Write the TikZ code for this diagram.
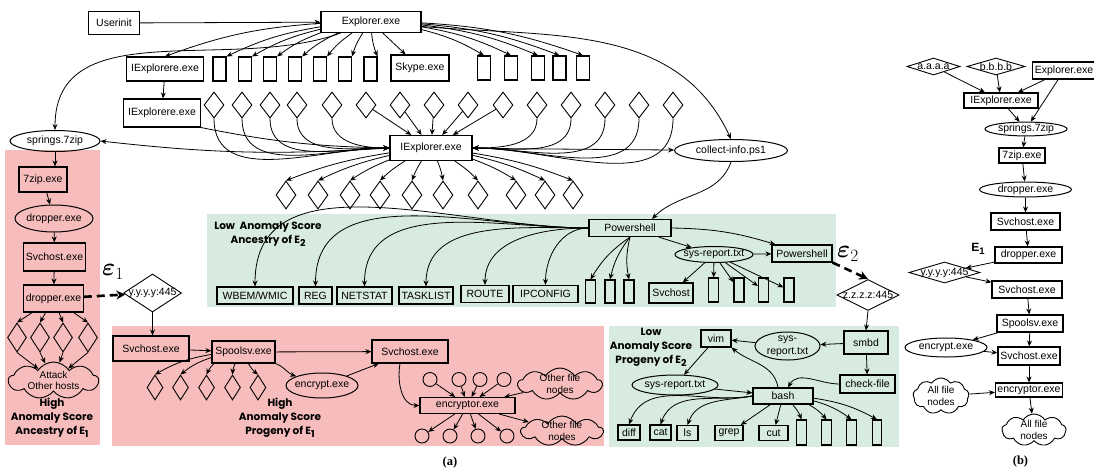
\documentclass[tikz,border=0pt]{standalone}
\usepackage{amsmath,amssymb}
\usepackage{mathtools}
\usepackage{xcolor}
\usepackage{fontspec}
\usepackage{tikz}
\usetikzlibrary{arrows.meta,positioning,shapes.geometric,shapes.symbols}
\newfontfamily\procfont{Liberation Sans}
\newfontfamily\tagfont{Poppins}
\newfontfamily\capfont{Liberation Serif}
\definecolor{hired}{RGB}{247,188,188}
\definecolor{logreen}{RGB}{215,235,224}
\newcommand{\idx}[1]{\raisebox{-0.5ex}{\fontsize{9.5}{10}\selectfont #1}}

\begin{document}
\begin{tikzpicture}[
  x=1pt, y=1pt,
  font=\procfont\fontsize{10.5}{12.6}\selectfont,
  box/.style={draw, line width=1.1pt, inner sep=2pt, minimum height=17},
  blank/.style={draw, line width=1.1pt, inner sep=0pt, minimum width=13,
                minimum height=24},
  file/.style={draw, ellipse, line width=1pt, inner sep=0pt},
  sock/.style={draw, diamond, line width=0.9pt, inner sep=0pt,
               minimum width=20, minimum height=26},
  cld/.style={draw, cloud, cloud puffs=9, cloud puff arc=115,
              line width=0.9pt, inner sep=0pt},
  cldtxt/.style={align=center, inner sep=0pt,
                 font=\procfont\fontsize{10}{11.5}\selectfont},
  hole/.style={draw, circle, line width=0.9pt, inner sep=0pt, minimum size=14},
  arr/.style={-{Stealth[length=6pt, width=5pt]}, line width=0.8pt},
  dasharr/.style={-{Stealth[length=9pt, width=9pt]}, line width=2.6pt,
                  dash pattern=on 8pt off 5pt},
  lab/.style={font=\tagfont\bfseries\fontsize{10.5}{14}\selectfont, align=center},
  eps/.style={font=\fontsize{23}{25}\selectfont},
  figcap/.style={font=\capfont\bfseries\fontsize{12.5}{15}\selectfont}
]
\useasboundingbox (0,0) rectangle (1094,-469);
% shaded regions
\fill[hired] (5,-150) rectangle (100,-445);
\fill[hired] (112,-326) rectangle (604,-446);
\fill[logreen] (207,-214) rectangle (836,-307);
\fill[logreen] (609,-326) rectangle (899,-447);
% top of the tree
\node[box, minimum width=51, minimum height=23] (uinit) at (114,-23) {Userinit};
\node[box, minimum width=100, minimum height=21] (expl) at (371,-22) {Explorer.exe};
\node[box, minimum width=77, minimum height=24] (iexa) at (165,-69) {IExplorere.exe};
\node[box, minimum width=58, minimum height=26] (skype) at (420,-68) {Skype.exe};
\node[box, minimum width=77, minimum height=28] (iexb) at (162,-113) {IExplorere.exe};
\foreach \x [count=\i] in {219.5,245,270,295,320,345,370.5}
  \node[blank] (lt\i) at (\x,-69) {};
\foreach \x [count=\i] in {484,511,538,559.5,583}
  \node[blank] (rt\i) at (\x,-68) {};
\foreach \x [count=\i] in {214,242,270,297,332,366,400,434,468,503,537,571,605,639,673}
  \node[sock] (md\i) at (\x,-105) {};
\node[box, minimum width=82, minimum height=25] (iex) at (431,-148) {IExplorer.exe};
\node[file, minimum width=90, minimum height=21] (spr) at (55,-141) {\clap{springs.7zip}};
\node[file, minimum width=113, minimum height=22] (coll) at (731,-150.5) {\clap{collect-info.ps1}};
\foreach \x [count=\i] in {286,318,350,380,412,443,478,516,545,573}
  \node[sock, minimum height=28] (bd\i) at (\x,-195) {};
% low score ancestry of E2
\node[lab] (lowa) at (268,-234) {Low~ Anomaly Score\\Ancestry of E\idx{2}};
\node[box, minimum width=82, inner sep=1pt] (psh) at (630,-228) {Powershell};
\node[box, minimum width=76] (wbem) at (255,-295.5) {WBEM/WMIC};
\node[box, minimum width=33] (reg) at (315.5,-295.5) {REG};
\node[box, minimum width=55] (nstat) at (364.5,-295.5) {NETSTAT};
\node[box, minimum width=54] (tlist) at (426,-295.5) {TASKLIST};
\node[box, minimum width=48] (route) at (485,-294) {ROUTE};
\node[box, minimum width=65] (ipcfg) at (545.5,-294) {IPCONFIG};
\foreach \x [count=\i] in {590.5,610,629}
  \node[blank, minimum width=10, minimum height=23] (gr\i) at (\x,-291.5) {};
\node[file, minimum width=78, minimum height=16] (srep) at (714,-254.5) {\clap{sys-report.txt}};
\node[box, minimum width=60] (psh2) at (802,-253.5) {Powershell};
\node[box, minimum width=44, minimum height=20] (svc) at (671,-293) {Svchost};
\foreach \x [count=\i] in {713.5,739,763.5,789}
  \node[blank, minimum width=10] (sr\i) at (\x,-290) {};
\node[sock, minimum width=62, minimum height=31] (zaddr) at (868,-295) {\clap{z.z.z.z:445}};
\node[eps] (epsb) at (848,-254) {$\boldsymbol{\varepsilon}_2$};
% low score progeny of E2
\node[lab] (lowb) at (651,-347) {Low\\Anomaly Score\\Progeny of E\idx{2}};
\node[box, minimum width=30] (vim) at (716,-338.5) {vim};
\node[file, minimum width=65, minimum height=28,
      label={[align=center]center:sys-\\report.txt}] (srep2) at (787.5,-346) {};
\node[box, minimum width=44, minimum height=23] (smbd) at (866,-342.5) {smbd};
\node[box, minimum width=55, minimum height=18] (chk) at (867.5,-384) {check-file};
\node[file, minimum width=86, minimum height=20] (srep3) at (675,-385) {\clap{sys-report.txt}};
\node[box, minimum width=60, minimum height=16] (bash) at (783,-396) {bash};
\node[box, minimum width=22, minimum height=15] (diff) at (629,-432.5) {diff};
\node[box, minimum width=21, minimum height=15] (cat) at (660.5,-432.5) {cat};
\node[box, minimum width=21, minimum height=15] (ls) at (687.5,-433) {ls};
\node[box, minimum width=28, minimum height=15] (grep) at (729,-433) {grep};
\node[box, minimum width=29, minimum height=15] (cut) at (773.5,-433) {cut};
\foreach \x [count=\i] in {801.5,826.5,851.5,877}
  \node[blank, minimum width=9.5, minimum height=25] (br\i) at (\x,-432.5) {};
% high score ancestry of E1
\node[box, minimum width=48, minimum height=25] (zip) at (43,-179.5) {7zip.exe};
\node[file, minimum width=78, minimum height=27] (dropa) at (54,-218.5) {\clap{dropper.exe}};
\node[box, minimum width=61, minimum height=28] (svca) at (54.5,-257) {Svchost.exe};
\node[box, minimum width=59, minimum height=27] (dropb) at (53.5,-298.5) {dropper.exe};
\foreach \x [count=\i] in {17,40,63,88}
  \node[sock, minimum width=19, minimum height=29] (ad\i) at (\x,-337.5) {};
\node[cld, minimum width=90, minimum height=37,
      label={[cldtxt]center:Attack\\Other hosts}] (atk) at (53.5,-380.5) {};
\node[lab] (hia) at (52,-418) {High\\Anomaly Score\\Ancestry of E\idx{1}};
\node[sock, minimum width=58, minimum height=38] (yya) at (152.5,-293) {\clap{y.y.y.y:445}};
\node[eps] (epsa) at (113,-272) {$\boldsymbol{\varepsilon}_1$};
% high score progeny of E1
\node[box, minimum width=76, minimum height=25] (svcb) at (151,-348.5) {Svchost.exe};
\node[box, minimum width=63, minimum height=22] (spool) at (243.5,-352) {Spoolsv.exe};
\node[box, minimum width=76, minimum height=23] (svcc) at (410,-351.5) {Svchost.exe};
\node[file, minimum width=72, minimum height=25] (encr) at (322,-385.5) {\clap{encrypt.exe}};
\foreach \x [count=\i] in {155,180.5,206.5,232.5,258}
  \node[sock, minimum width=16, minimum height=25] (pd\i) at (\x,-387.5) {};
\node[lab] (hib) at (280,-418) {High\\Anomaly Score\\Progeny of E\idx{1}};
\node[box, minimum width=95, minimum height=16] (ency) at (467.5,-405.5) {encryptor.exe};
\foreach \x [count=\i] in {430,459,480,504}
  \node[hole] (tc\i) at (\x,-379.5) {};
\foreach \x [count=\i] in {422,450,478,507}
  \node[hole] (bc\i) at (\x,-436) {};
\node[cld, minimum width=84, minimum height=32,
      label={[cldtxt]center:Other file\\nodes}] (ofa) at (560,-384) {};
\node[cld, minimum width=82, minimum height=30,
      label={[cldtxt]center:Other file\\nodes}] (ofb) at (562,-431) {};
% panel b
\node[sock, minimum width=53, minimum height=17] (aaa) at (933.5,-66.5) {\clap{a.a.a.a}};
\node[sock, minimum width=58, minimum height=17] (bbb) at (996,-66.5) {\clap{b.b.b.b}};
\node[box, minimum width=62] (explb) at (1064,-70.5) {Explorer.exe};
\node[box, minimum width=74, minimum height=15] (iexc) at (1001,-100.5) {IExplorer.exe};
\node[file, minimum width=82, minimum height=12] (sprb) at (1026,-129) {\clap{springs.7zip}};
\node[box, minimum width=46, minimum height=15] (zipb) at (1022,-155.5) {7zip.exe};
\node[file, minimum width=92, minimum height=15] (dropc) at (1025.5,-189.5) {\clap{dropper.exe}};
\node[box, minimum width=69] (svcd) at (1025.5,-221.5) {Svchost.exe};
\node[lab, font=\procfont\bfseries\fontsize{12}{14}\selectfont] (e1b) at (978,-249) {E\idx{1}};
\node[box, minimum width=67, minimum height=16] (dropd) at (1028.5,-255) {dropper.exe};
\node[sock, minimum width=71, minimum height=21] (yyb) at (944.5,-272.5) {\clap{y.y.y.y:445}};
\node[box, minimum width=70] (svce) at (1027,-289.5) {Svchost.exe};
\node[box, minimum width=66] (spoolb) at (1030,-323.5) {Spoolsv.exe};
\node[file, minimum width=82, minimum height=19] (encb) at (946,-347.5) {\clap{encrypt.exe}};
\node[box, minimum width=62, minimum height=18] (svcf) at (1029,-356) {Svchost.exe};
\node[cld, minimum width=56, minimum height=36,
      label={[cldtxt]center:All file\\nodes}] (alla) at (941,-396) {};
\node[box, minimum width=66, minimum height=14] (encyb) at (1029,-390) {encryptor.exe};
\node[cld, minimum width=64, minimum height=32,
      label={[cldtxt]center:All file\\nodes}] (allb) at (1034,-430) {};
% captions
\node[figcap] (capa) at (450,-462) {(a)};
\node[figcap] (capb) at (1020.5,-461) {(b)};
% arrows, top
\draw[arr] (uinit) -- (expl);
\draw[arr] (expl) to[bend right=8] (iexa.north);
\foreach \i in {1,...,7}
  \draw[arr] (expl) to[bend right=8] (lt\i.north east);
\draw[arr] (expl) -- (skype);
\foreach \i in {1,...,5}
  \draw[arr] (expl) to[bend left=8] (rt\i.north);
\draw[arr] (expl) to[out=200, in=90] (spr.north);
\draw[arr] (expl) to[out=-5, in=115] (coll.north);
\draw[arr] (iexa) -- (iexb);
\draw[arr] (iexb.south east) to[bend right=5] (iex.west);
\foreach \i in {1,...,5}
  \draw[arr] (md\i.south) to[out=-90, in=180] (iex.west);
\foreach \i in {6,...,10}
  \draw[arr] (md\i) -- (iex);
\foreach \i in {11,...,15}
  \draw[arr] (md\i.south) to[out=-90, in=0] (iex.east);
\draw[arr] (iex.west) to[bend left=5] (spr.east);
\draw[arr] (iex) -- (coll);
\foreach \i in {1,...,5}
  \draw[arr] (iex) to[bend right=6] (bd\i.north);
\foreach \i in {6,...,10}
  \draw[arr] (iex) to[bend left=6] (bd\i.north);
\draw[arr] (coll.south) to[out=-110, in=45] ([xshift=22]psh.north);
% arrows, ancestry of E2
\foreach \n in {wbem,reg,nstat,tlist,route,ipcfg}
  \draw[arr] (psh.west) to[out=180, in=90] (\n.north);
\foreach \i in {1,2,3}
  \draw[arr] (psh.south) to[bend right=12] (gr\i.north);
\draw[arr] (psh) -- (srep);
\draw[arr] (psh.east) to[bend left=8] ([xshift=4]psh2.north west);
\draw[arr] (srep) -- (psh2);
\draw[arr] (srep) -- (svc);
\foreach \i in {1,...,4}
  \draw[arr] (srep) -- (sr\i);
\draw[dasharr] (psh2.south east) -- (zaddr.north);
\draw[arr] (zaddr.south) -- (smbd.north);
% arrows, progeny of E2
\draw[arr] (smbd) -- (srep2);
\draw[arr] (srep2) -- (vim);
\draw[arr] (smbd) -- (chk);
\draw[arr] (chk.west) to[out=180, in=60] ([xshift=5]bash.north);
\draw[arr] ([xshift=-5]bash.north) to[out=100, in=-40] (vim.south east);
\draw[arr] (vim) -- (srep3);
\draw[arr] (srep3) -- (bash);
\foreach \n in {diff,cat,ls}
  \draw[arr] (bash.west) to[out=190, in=70] (\n.north);
\draw[arr] (bash) -- (grep);
\draw[arr] (bash) -- (cut);
\foreach \i in {1,...,4}
  \draw[arr] (bash) to[bend left=10] (br\i.north);
% arrows, ancestry of E1
\draw[arr] (spr.south) -- ([xshift=12]zip.north);
\draw[arr] (zip) -- (dropa);
\draw[arr] (dropa) -- (svca);
\draw[arr] (svca) -- (dropb);
\foreach \i in {1,...,4}
  \draw[arr] (dropb) -- (ad\i.north);
\foreach \i in {1,...,4}
  \draw[arr] (ad\i.south) -- (atk);
\draw[dasharr] (dropb) -- (yya);
\draw[arr] (yya.south) -- (yya.south |- svcb.north);
% arrows, progeny of E1
\draw[arr] (svcb) -- (spool);
\draw[arr] (spool) -- (svcc);
\draw[arr] (spool.south east) to[out=-20, in=160] (encr.north west);
\draw[arr] (encr) -- (svcc);
\foreach \i in {1,...,5}
  \draw[arr] (spool) to[bend right=10] (pd\i.north);
\draw[arr] ([xshift=-10]svcc.south) to[out=-100, in=180] (ency.west);
\foreach \i in {1,...,4}
  \draw[arr] (tc\i) -- (ency);
\draw[arr] (ofa) -- (ency);
\foreach \i in {1,...,4}
  \draw[arr] (ency) -- (bc\i);
\draw[arr] (ency) -- (ofb);
% arrows, panel b
\draw[arr] (aaa) -- (iexc);
\draw[arr] (bbb) -- (iexc);
\draw[arr] (explb) -- (iexc);
\draw[arr] (explb) -- (sprb);
\draw[arr] (iexc) -- (sprb);
\draw[arr] (sprb) -- (zipb);
\draw[arr] (zipb) -- (dropc);
\draw[arr] (dropc) -- (svcd);
\draw[arr] (svcd) -- (dropd);
\draw[arr] (dropd) -- (yyb);
\draw[arr] (yyb) -- (svce);
\draw[arr] (svce) -- (spoolb);
\draw[arr] (spoolb) -- (encb);
\draw[arr] (spoolb) -- (svcf);
\draw[arr] (encb) -- (svcf);
\draw[arr] (svcf) -- (encyb);
\draw[arr] (alla) -- (encyb);
\draw[arr] (encyb) -- (allb);
\end{tikzpicture}
\end{document}
